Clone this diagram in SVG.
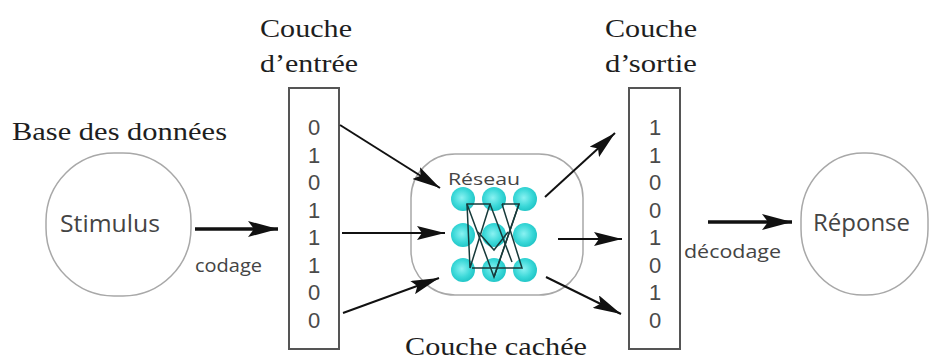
<svg xmlns="http://www.w3.org/2000/svg" width="929" height="360" viewBox="0 0 929 360">
  <defs>
    <marker id="head" viewBox="0 0 30 16" refX="30" refY="8" markerWidth="30" markerHeight="16" markerUnits="userSpaceOnUse" orient="auto">
      <path d="M0,0 L30,8 L0,16 L6,8 Z" fill="#111"/>
    </marker>
    <marker id="headSm" viewBox="0 0 28 14" refX="28" refY="7" markerWidth="28" markerHeight="14" markerUnits="userSpaceOnUse" orient="auto">
      <path d="M0,0 L28,7 L0,14 L5,7 Z" fill="#111"/>
    </marker>
    <radialGradient id="neuron" cx="0.45" cy="0.45" r="0.6">
      <stop offset="0" stop-color="#8af2f2"/>
      <stop offset="0.6" stop-color="#3ad8d8"/>
      <stop offset="1" stop-color="#1cc2c4"/>
    </radialGradient>
  </defs>
  <style>
    .serif { font-family: "Liberation Serif", "Times New Roman", serif; font-size: 26px; fill: #1e1e1e; }
    .sans { font-family: "Open Sans", "Noto Sans", sans-serif; fill: #444; }
    .digits { font-family: "Liberation Sans", Arial, sans-serif; font-size: 22px; fill: #4a4a4a; text-anchor: middle; }
    .blob { fill: #fff; stroke: #a8a8a8; stroke-width: 1.5; }
    .layer { fill: #fff; stroke: #555; stroke-width: 2; }
    .arrow { stroke: #111; stroke-width: 2; fill: none; marker-end: url(#headSm); }
    .thick { stroke: #111; stroke-width: 3.5; fill: none; marker-end: url(#head); }
    .syn { stroke: #173a3a; stroke-width: 1.5; fill: none; }
  </style>

  <rect width="929" height="360" fill="#fff"/>

  <!-- Labels above the layers -->
  <text class="serif" x="12" y="140" textLength="215" lengthAdjust="spacingAndGlyphs">Base des données</text>
  <text class="serif" x="260" y="37" textLength="92" lengthAdjust="spacingAndGlyphs">Couche</text>
  <text class="serif" x="260" y="72" textLength="98" lengthAdjust="spacingAndGlyphs">d’entrée</text>
  <text class="serif" x="605" y="37" textLength="92" lengthAdjust="spacingAndGlyphs">Couche</text>
  <text class="serif" x="605" y="72" textLength="92" lengthAdjust="spacingAndGlyphs">d’sortie</text>
  <text class="serif" x="405" y="355" textLength="182" lengthAdjust="spacingAndGlyphs">Couche cachée</text>

  <!-- Stimulus -->
  <g id="stimulus">
    <rect class="blob" x="46" y="153" width="145" height="143" rx="68" ry="68"/>
    <text class="sans" x="60" y="232" font-size="23" textLength="100" lengthAdjust="spacingAndGlyphs">Stimulus</text>
  </g>

  <!-- Input layer -->
  <g id="input-layer">
    <rect class="layer" x="289" y="88" width="50" height="261"/>
    <text class="digits" x="314" y="135">0</text>
    <text class="digits" x="314" y="162.5">1</text>
    <text class="digits" x="314" y="190">0</text>
    <text class="digits" x="314" y="217.5">1</text>
    <text class="digits" x="314" y="245">1</text>
    <text class="digits" x="314" y="272.5">1</text>
    <text class="digits" x="314" y="300">0</text>
    <text class="digits" x="314" y="327.5">0</text>
  </g>

  <!-- Hidden layer -->
  <g id="hidden-layer">
    <rect class="blob" x="411" y="154" width="172" height="141" rx="44" ry="44" stroke="#bbb" stroke-width="1.2"/>
    <text class="sans" x="448" y="185" font-size="17" fill="#554455" textLength="72" lengthAdjust="spacingAndGlyphs">Réseau</text>
    <g fill="url(#neuron)">
      <circle cx="463" cy="199" r="12"/>
      <circle cx="494" cy="199" r="12"/>
      <circle cx="525" cy="199" r="12"/>
      <circle cx="463" cy="235" r="12"/>
      <circle cx="494" cy="235" r="12"/>
      <circle cx="525" cy="235" r="12"/>
      <circle cx="463" cy="270" r="12"/>
      <circle cx="494" cy="270" r="12"/>
      <circle cx="525" cy="270" r="12"/>
    </g>
    <g class="syn">
      <path d="M467,204 L490,204 L470,268 Z"/>
      <path d="M467,204 L494,277 L519,204"/>
      <path d="M502,204 L519,204 L494,277"/>
      <path d="M502,204 L522,268 L472,268"/>
      <path d="M478,232 L494,250 L508,232"/>
      <path d="M490,204 L512,262"/>
    </g>
  </g>

  <!-- Output layer -->
  <g id="output-layer">
    <rect class="layer" x="629" y="88" width="51" height="261"/>
    <text class="digits" x="655" y="135">1</text>
    <text class="digits" x="655" y="162.5">1</text>
    <text class="digits" x="655" y="190">0</text>
    <text class="digits" x="655" y="217.5">0</text>
    <text class="digits" x="655" y="245">1</text>
    <text class="digits" x="655" y="272.5">0</text>
    <text class="digits" x="655" y="300">1</text>
    <text class="digits" x="655" y="327.5">0</text>
  </g>

  <!-- Réponse -->
  <g id="reponse">
    <rect class="blob" x="801" y="153" width="127" height="142" rx="62" ry="66"/>
    <text class="sans" x="813" y="231" font-size="23" textLength="97" lengthAdjust="spacingAndGlyphs">Réponse</text>
  </g>

  <!-- Connectors -->
  <g id="connectors">
    <line class="thick" x1="195" y1="229" x2="278" y2="229"/>
    <text class="sans" x="195" y="272" font-size="18" textLength="67" lengthAdjust="spacingAndGlyphs">codage</text>

    <line class="arrow" x1="340" y1="125" x2="440" y2="188"/>
    <line class="arrow" x1="342" y1="233" x2="445" y2="233"/>
    <line class="arrow" x1="343" y1="313" x2="439" y2="278"/>

    <line class="arrow" x1="545" y1="197" x2="615" y2="133"/>
    <line class="arrow" x1="558" y1="239" x2="622" y2="239"/>
    <line class="arrow" x1="546" y1="277" x2="621" y2="314"/>

    <line class="thick" x1="708" y1="222" x2="792" y2="222"/>
    <text class="sans" x="684" y="258" font-size="18" textLength="97" lengthAdjust="spacingAndGlyphs">décodage</text>
  </g>
</svg>
